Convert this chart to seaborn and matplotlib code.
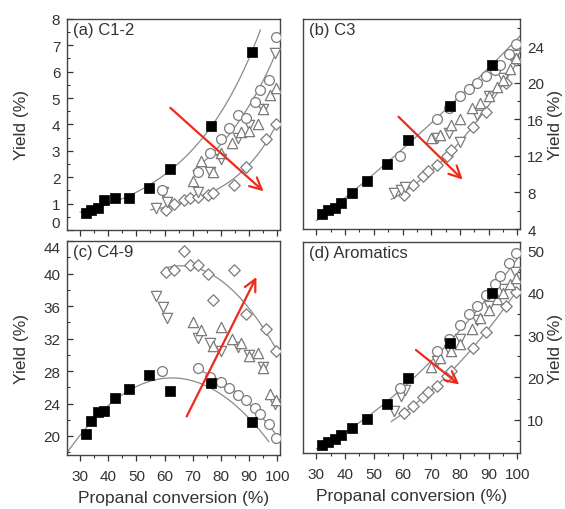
import numpy as np
import pandas as pd
import matplotlib
matplotlib.use("Agg")
import matplotlib.pyplot as plt
import seaborn as sns
from matplotlib.ticker import MultipleLocator

sns.set_theme(style="ticks")
plt.rcParams["font.family"] = ["Liberation Sans", "DejaVu Sans"]

# ---------------- data ----------------
# fresh catalyst (filled squares)
conv_fresh = [32, 34, 36.5, 38.5, 42.5, 47.5, 54.5, 62, 76.5, 91]
c12_fresh = [0.64, 0.77, 0.83, 1.14, 1.2, 1.2, 1.58, 2.31, 3.94, 6.74]
c3_fresh = [5.65, 6.1, 6.3, 6.8, 7.96, 9.3, 11.1, 13.7, 17.5, 21.9]
c49_fresh = [20.3, 21.9, 23.0, 23.1, 24.7, 25.8, 27.5, 25.6, 26.5, 21.7]
arom_fresh = [4.06, 4.6, 5.4, 6.4, 8.0, 10.2, 13.6, 19.9, 28.2, 40.1]

# open circles
conv_circ = [59, 72, 76, 80, 83, 86, 89, 92, 94, 97, 99.5]
c12_circ = [1.5, 2.2, 2.9, 3.45, 3.85, 4.35, 4.25, 4.86, 5.3, 5.67, 7.3]
c3_circ = [12.0, 16.0, 17.3, 18.6, 19.3, 20.0, 20.7, 21.4, 22.0, 23.2, 24.3]
c49_circ = [28.0, 28.4, 27.3, 26.7, 25.9, 25.0, 24.4, 23.4, 22.75, 21.5, 19.8]
arom_circ = [17.5, 26.2, 29.0, 32.5, 35.0, 37.0, 39.5, 42.0, 44.0, 47.0, 49.5]

# open up-triangles
conv_up = [70, 73, 77, 80, 84, 87, 90, 93, 95, 97.5, 99.5]
c12_up = [1.85, 2.6, 2.2, 2.9, 3.3, 3.7, 3.75, 4.0, 4.6, 5.1, 5.4]
c3_up = [14.0, 14.3, 15.4, 16.0, 17.2, 17.8, 18.6, 19.5, 20.3, 21.5, 22.7]
c49_up = [34.0, 33.0, 31.1, 33.4, 31.9, 31.5, 29.8, 30.2, 28.4, 25.2, 24.4]
arom_up = [22.5, 24.5, 26.2, 28.0, 31.5, 34.0, 36.0, 38.5, 40.0, 42.0, 43.5]

# open down-triangles
conv_down = [57, 59.5, 61, 72, 76, 80, 86, 90, 95, 99]
c12_down = [0.85, 1.45, 1.08, 1.45, 2.2, 2.7, 3.5, 3.97, 4.6, 6.7]
c3_down = [7.9, 8.3, 8.6, 14.0, 14.5, 13.5, 16.5, 18.6, 20.5, 23.0]
c49_down = [37.3, 35.9, 34.6, 32.1, 31.5, 30.5, 31.0, 30.0, 28.5, 24.0]
arom_down = [12.0, 15.5, 17.0, 24.0, 26.5, 29.0, 33.5, 37.0, 41.0, 45.0]

# open diamonds
conv_dia = [60.5, 63.5, 67, 69, 72, 75.5, 77, 84.5, 89, 96, 99.5]
c12_dia = [0.75, 1.0, 1.14, 1.2, 1.27, 1.33, 1.40, 1.72, 2.4, 3.45, 4.0]
c3_dia = [7.7, 8.8, 9.8, 10.3, 11.0, 12.0, 12.6, 15.2, 16.8, 20.0, 22.5]
c49_dia = [40.25, 40.5, 42.75, 41.1, 41.1, 40.0, 36.7, 40.5, 35.0, 33.2, 30.5]
arom_dia = [11.5, 13.2, 15.3, 16.5, 18.0, 20.3, 21.5, 27.0, 30.8, 37.0, 40.2]

panel_titles = ["(a) C1-2", "(b) C3", "(c) C4-9", "(d) Aromatics"]
x_label = "Propanal conversion (%)"
y_label = "Yield (%)"

# trend arrows (data coordinates: start, end)
arrows = [((61.3, 4.7), (95.8, 1.4)),
          ((57.9, 16.5), (81.6, 9.2)),
          ((67.4, 22.1), (93.0, 39.9)),
          ((63.9, 26.9), (80.5, 17.9))]

# ---------------- figure ----------------
fig = plt.figure(figsize=(5.65, 5.10), dpi=100)
pos = [[0.119, 0.547, 0.377, 0.414],
       [0.537, 0.549, 0.384, 0.412],
       [0.119, 0.105, 0.377, 0.420],
       [0.537, 0.109, 0.384, 0.414]]
axes = [fig.add_axes(p) for p in pos]

series = {
    0: (c12_fresh, c12_circ, c12_up, c12_down, c12_dia),
    1: (c3_fresh, c3_circ, c3_up, c3_down, c3_dia),
    2: (c49_fresh, c49_circ, c49_up, c49_down, c49_dia),
    3: (arom_fresh, arom_circ, arom_up, arom_down, arom_dia),
}

line_col = "#8a8a8a"
edge_col = "#7a7a7a"
txt_col = "#333333"


def fit_line(ax, x, y, deg, lo, hi, log=False):
    x = np.asarray(x, float)
    y = np.asarray(y, float)
    xx = np.linspace(lo, hi, 200)
    if log:
        p = np.polyfit(x, np.log(y), deg)
        yy = np.exp(np.polyval(p, xx))
    else:
        p = np.polyfit(x, y, deg)
        yy = np.polyval(p, xx)
    sns.lineplot(x=xx, y=yy, ax=ax, color=line_col, lw=0.9, zorder=1,
                 sort=False, estimator=None)


for i, ax in enumerate(axes):
    fresh, circ, up, down, dia = series[i]
    # fitted curves
    if i == 0:
        fit_line(ax, conv_fresh, fresh, 1, 30, 94, log=True)
        fit_line(ax, conv_circ[1:], circ[1:], 1, 70, 100, log=True)
        fit_line(ax, conv_dia, dia, 2, 55, 100, log=True)
    elif i == 1:
        fit_line(ax, conv_fresh, fresh, 2, 30, 101)
        fit_line(ax, conv_dia, dia, 2, 56, 101)
    elif i == 2:
        fit_line(ax, conv_fresh, fresh, 2, 25.5, 97)
        fit_line(ax, conv_dia, dia, 2, 60, 100)
        fit_line(ax, conv_circ[1:], circ[1:], 2, 71, 100)
    else:
        fit_line(ax, conv_fresh, fresh, 2, 30, 100)
        fit_line(ax, conv_dia, dia, 2, 56, 100)

    open_kw = dict(facecolor="white", edgecolor=edge_col, linewidth=0.9,
                   ax=ax, zorder=3, legend=False)
    sns.scatterplot(x=conv_dia, y=dia, marker="D", s=34, **open_kw)
    sns.scatterplot(x=conv_down, y=down, marker="v", s=55, **open_kw)
    sns.scatterplot(x=conv_up, y=up, marker="^", s=55, **open_kw)
    sns.scatterplot(x=conv_circ, y=circ, marker="o", s=50, **open_kw)
    sns.scatterplot(x=conv_fresh, y=fresh, marker="s", s=48, color="black",
                    edgecolor="black", linewidth=0.5, ax=ax, zorder=4,
                    legend=False)

    # arrows
    (x0, y0), (x1, y1) = arrows[i]
    ax.annotate("", xy=(x1, y1), xytext=(x0, y0),
                arrowprops=dict(arrowstyle="->,head_length=0.7,head_width=0.35",
                                color="#ee2a1a", lw=1.6), zorder=6)

    ax.set_xlim(25.5, 101)
    ax.xaxis.set_major_locator(MultipleLocator(10))
    ax.xaxis.set_minor_locator(MultipleLocator(5))
    ax.tick_params(axis="x", which="major", direction="out", length=4,
                   width=0.9, labelsize=11, color=txt_col, pad=6)
    ax.tick_params(axis="x", which="minor", direction="out", length=2.5,
                   width=0.8, color=txt_col)
    ax.tick_params(axis="y", which="major", direction="in", length=4,
                   width=0.9, labelsize=11, color=txt_col, pad=5)
    ax.tick_params(axis="y", which="minor", direction="in", length=2.5,
                   width=0.8, color=txt_col)
    for sp in ax.spines.values():
        sp.set_color("#444444")
        sp.set_linewidth(1.0)

    ax.text(0.025, 0.985, panel_titles[i], transform=ax.transAxes,
            ha="left", va="top", fontsize=12, color=txt_col)

    if i < 2:
        ax.tick_params(axis="x", labelbottom=False)
        ax.set_xlabel("")
    else:
        ax.set_xlabel(x_label, fontsize=12.5, labelpad=5, color=txt_col)

    if i in (1, 3):
        ax.yaxis.tick_right()
        ax.yaxis.set_label_position("right")
        ax.set_ylabel(y_label, fontsize=12.5, labelpad=3, color=txt_col)
    else:
        ax.set_ylabel(y_label, fontsize=12.5, color=txt_col)
        ax.yaxis.set_label_coords(-0.18, 0.5)

# y scales
axes[0].set_ylim(0, 8)
axes[0].yaxis.set_major_locator(MultipleLocator(1))
axes[0].yaxis.set_minor_locator(MultipleLocator(0.5))
axes[1].set_ylim(4, 27)
axes[1].yaxis.set_major_locator(MultipleLocator(4))
axes[1].yaxis.set_minor_locator(MultipleLocator(2))
axes[2].set_ylim(17.6, 44)
axes[2].yaxis.set_major_locator(MultipleLocator(4))
axes[2].yaxis.set_minor_locator(MultipleLocator(2))
axes[3].set_ylim(2, 52)
axes[3].set_yticks([10, 20, 30, 40, 50])
axes[3].yaxis.set_minor_locator(MultipleLocator(5))

fig.canvas.draw()
for ax in axes:
    for lab in ax.get_xticklabels() + ax.get_yticklabels():
        lab.set_color(txt_col)

# keep the "0" of (a) and the "44" of (c) from colliding
for t in axes[0].yaxis.get_major_ticks():
    if abs(t.get_loc()) < 1e-9:
        t.label1.set_verticalalignment("bottom")
for t in axes[2].yaxis.get_major_ticks():
    if abs(t.get_loc() - 44) < 1e-9:
        t.label1.set_verticalalignment("top")

fig.savefig("out.png", dpi=100)
